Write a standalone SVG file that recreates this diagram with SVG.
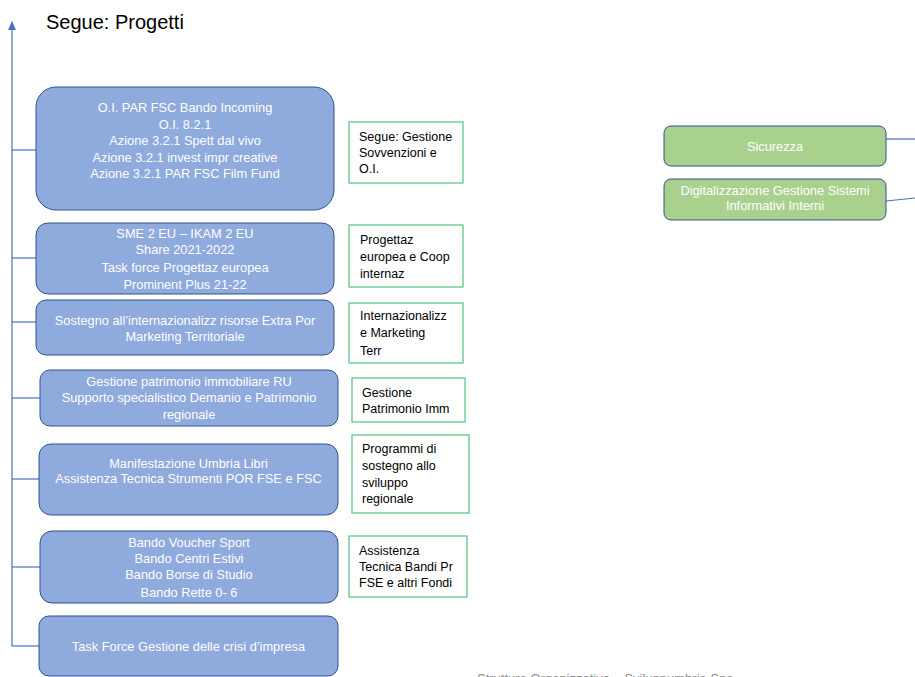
<svg xmlns="http://www.w3.org/2000/svg" width="915" height="677" viewBox="0 0 915 677">
<defs>
<style>
.blue{fill:#8FAADC;stroke:#2F528F;stroke-width:1}
.grn{fill:#A9D18E;stroke:#2F528F;stroke-width:1}
.lbl{fill:#FFFFFF;stroke:#5CC98B;stroke-width:1.3}
.bt{font-family:"Liberation Sans",Arial,sans-serif;font-size:12.8px;fill:#FFFFFF;text-anchor:middle}
.lt{font-family:"Liberation Sans",Arial,sans-serif;font-size:12.5px;fill:#000000}
.conn{fill:none;stroke:#4472C4;stroke-width:1.2}
</style>
<marker id="arr" markerWidth="9" markerHeight="8" refX="8" refY="4" orient="auto" markerUnits="userSpaceOnUse" viewBox="0 0 9 8">
<path d="M0,0 L9,4 L0,8 Z" fill="#4472C4"/>
</marker>
</defs>
<rect width="915" height="677" fill="#FFFFFF"/>
<text x="46" y="29" font-family="'Liberation Sans',Arial,sans-serif" font-size="20" fill="#000000">Segue: Progetti</text>
<g id="connectors">
<path class="conn" d="M12,646 L12,22" marker-end="url(#arr)"/>
<path class="conn" d="M12,150 H36"/>
<path class="conn" d="M12,258 H36"/>
<path class="conn" d="M12,322 H36"/>
<path class="conn" d="M12,398 H40"/>
<path class="conn" d="M12,479 H39"/>
<path class="conn" d="M12,567 H40"/>
<path class="conn" d="M12,646 H39"/>
<path class="conn" d="M886,139 H915"/>
<path class="conn" d="M886,201 L915,198"/>
</g>
<g id="box1">
<rect class="blue" x="36" y="87" width="298" height="123" rx="20"/>
<text class="bt" x="185" y="112">O.I. PAR FSC Bando Incoming</text>
<text class="bt" x="185" y="128.5">O.I. 8.2.1</text>
<text class="bt" x="185" y="145">Azione 3.2.1 Spett dal vivo</text>
<text class="bt" x="185" y="161.5">Azione 3.2.1 invest impr creative</text>
<text class="bt" x="185" y="178">Azione 3.2.1 PAR FSC Film Fund</text>
</g>
<g id="label1">
<rect class="lbl" x="349" y="122" width="114" height="61"/>
<text class="lt" x="359" y="141">Segue: Gestione</text>
<text class="lt" x="359" y="157">Sovvenzioni e</text>
<text class="lt" x="359" y="173">O.I.</text>
</g>
<g id="box2">
<rect class="blue" x="36" y="223" width="298" height="71" rx="12"/>
<text class="bt" x="185" y="238">SME 2 EU – IKAM 2 EU</text>
<text class="bt" x="185" y="254">Share 2021-2022</text>
<text class="bt" x="185" y="272">Task force Progettaz europea</text>
<text class="bt" x="185" y="289">Prominent Plus 21-22</text>
</g>
<g id="label2">
<rect class="lbl" x="349" y="225" width="114" height="62"/>
<text class="lt" x="360" y="244">Progettaz</text>
<text class="lt" x="360" y="261">europea e Coop</text>
<text class="lt" x="360" y="278">internaz</text>
</g>
<g id="box3">
<rect class="blue" x="36" y="300" width="298" height="55" rx="10"/>
<text class="bt" x="185" y="325">Sostegno all’internazionalizz risorse Extra Por</text>
<text class="bt" x="185" y="341">Marketing Territoriale</text>
</g>
<g id="label3">
<rect class="lbl" x="349" y="303" width="114" height="60"/>
<text class="lt" x="360" y="320">Internazionalizz</text>
<text class="lt" x="360" y="337">e Marketing</text>
<text class="lt" x="360" y="355">Terr</text>
</g>
<g id="box4">
<rect class="blue" x="40" y="370" width="298" height="56" rx="10"/>
<text class="bt" x="189" y="386">Gestione patrimonio immobiliare RU</text>
<text class="bt" x="189" y="402">Supporto specialistico Demanio e Patrimonio</text>
<text class="bt" x="189" y="419">regionale</text>
</g>
<g id="label4">
<rect class="lbl" x="352" y="378" width="113" height="44"/>
<text class="lt" x="362" y="397">Gestione</text>
<text class="lt" x="362" y="413">Patrimonio Imm</text>
</g>
<g id="box5">
<rect class="blue" x="39" y="444" width="299" height="71" rx="12"/>
<text class="bt" x="188.5" y="468">Manifestazione Umbria Libri</text>
<text class="bt" x="188.5" y="483">Assistenza Tecnica Strumenti POR FSE e FSC</text>
</g>
<g id="label5">
<rect class="lbl" x="352" y="435" width="117" height="78"/>
<text class="lt" x="362" y="453">Programmi di</text>
<text class="lt" x="362" y="470">sostegno allo</text>
<text class="lt" x="362" y="487">sviluppo</text>
<text class="lt" x="362" y="503">regionale</text>
</g>
<g id="box6">
<rect class="blue" x="40" y="531" width="298" height="72" rx="12"/>
<text class="bt" x="189" y="547">Bando Voucher Sport</text>
<text class="bt" x="189" y="563">Bando Centri Estivi</text>
<text class="bt" x="189" y="579">Bando Borse di Studio</text>
<text class="bt" x="189" y="597">Bando Rette 0- 6</text>
</g>
<g id="label6">
<rect class="lbl" x="349" y="536" width="118" height="61"/>
<text class="lt" x="359" y="555">Assistenza</text>
<text class="lt" x="359" y="571">Tecnica Bandi Pr</text>
<text class="lt" x="359" y="587">FSE e altri Fondi</text>
</g>
<g id="box7">
<rect class="blue" x="39" y="616" width="299" height="60" rx="10"/>
<text class="bt" x="188.5" y="651">Task Force Gestione delle crisi d’impresa</text>
</g>
<g id="sicurezza">
<rect class="grn" x="664" y="126" width="222" height="40" rx="7"/>
<text class="bt" x="775" y="151">Sicurezza</text>
</g>
<g id="digitalizzazione">
<rect class="grn" x="664" y="179" width="222" height="41" rx="7"/>
<text class="bt" x="775" y="195">Digitalizzazione Gestione Sistemi</text>
<text class="bt" x="775" y="210">Informativi Interni</text>
</g>
<text x="477" y="683" font-family="'Liberation Sans',Arial,sans-serif" font-size="13" fill="#8C8C8C">Struttura Organizzativa – Sviluppumbria Spa</text>
</svg>
